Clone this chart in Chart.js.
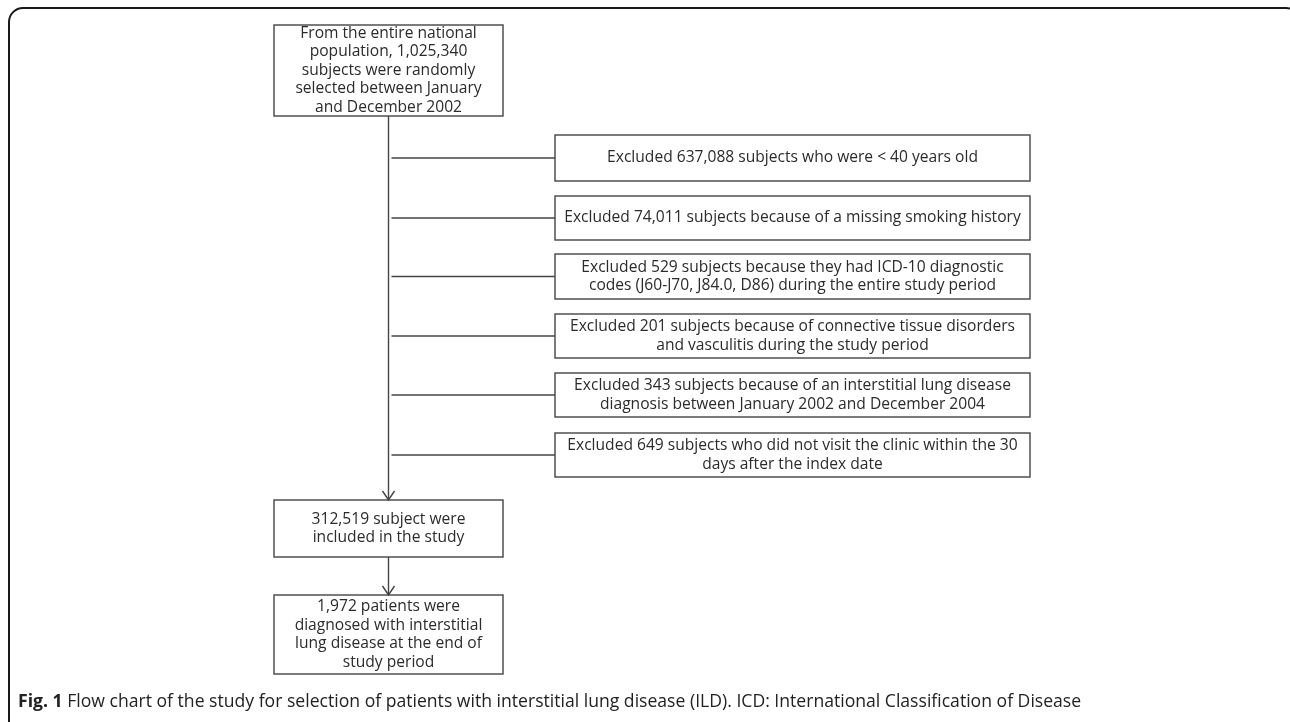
<!DOCTYPE html>
<html>
<head>
<meta charset="utf-8">
<script src="https://cdn.jsdelivr.net/npm/chart.js@4.4.1/dist/chart.umd.min.js"></script>
<style>
  html, body { margin: 0; padding: 0; background: #fff; }
  #wrap { width: 1290px; height: 722px; }
</style>
</head>
<body>
<div id="wrap"><canvas id="flow" width="1290" height="722"></canvas></div>
<script>
// flow chart content
const mainSteps = [
    ["From the entire national", "population, 1,025,340", "subjects were randomly", "selected between January", "and December 2002"],
    ["312,519 subject were", "included in the study"],
    ["1,972 patients were", "diagnosed with interstitial", "lung disease at the end of", "study period"]
];
const mainCounts = [1025340, 312519, 1972];

const exclusions = [
    ["Excluded 637,088 subjects who were < 40 years old"],
    ["Excluded 74,011 subjects because of a missing smoking history"],
    ["Excluded 529 subjects because they had ICD-10 diagnostic", "codes (J60-J70, J84.0, D86) during the entire study period"],
    ["Excluded 201 subjects because of connective tissue disorders", "and vasculitis during the study period"],
    ["Excluded 343 subjects because of an interstitial lung disease", "diagnosis between January 2002 and December 2004"],
    ["Excluded 649 subjects who did not visit the clinic within the 30", "days after the index date"]
];
const excludedCounts = [637088, 74011, 529, 201, 343, 649];

const captionBold = "Fig. 1";
const captionText = " Flow chart of the study for selection of patients with interstitial lung disease (ILD). ICD: International Classification of Disease";

// layout (in scale units)
const mainBoxes = [
    {x0: 274, x1: 503, y0: 25, y1: 116},
    {x0: 274, x1: 503, y0: 500, y1: 557},
    {x0: 274, x1: 503, y0: 595, y1: 674}
];
const exclX0 = 555, exclX1 = 1030;
const exclTops = [135, 196, 254, 314, 373, 433];
const exclBottoms = [181, 240, 299, 358, 417, 477];

const FONT = '"Open Sans", "Noto Sans", sans-serif';
const lineH = 18.5;

const flowPlugin = {
    id: 'flowPlugin',
    afterDraw(chart) {
        const ctx = chart.ctx;
        const sx = chart.scales.x, sy = chart.scales.y;
        const X = v => sx.getPixelForValue(v);
        const Y = v => sy.getPixelForValue(v);

        ctx.save();

        // outer frame (rounded, cropped on right/bottom)
        ctx.strokeStyle = '#1a1a1a';
        ctx.lineWidth = 2;
        ctx.beginPath();
        ctx.roundRect(X(9), Y(8), X(1300) - X(9), Y(735) - Y(8), 14);
        ctx.stroke();

        function box(b, lines) {
            ctx.strokeStyle = '#444';
            ctx.lineWidth = 1.4;
            ctx.strokeRect(X(b.x0), Y(b.y0), X(b.x1) - X(b.x0), Y(b.y1) - Y(b.y0));
            ctx.fillStyle = '#2b2b2b';
            ctx.font = '15.6px ' + FONT;
            ctx.textAlign = 'center';
            ctx.textBaseline = 'middle';
            const cx = (X(b.x0) + X(b.x1)) / 2;
            const cy = (Y(b.y0) + Y(b.y1)) / 2;
            const start = cy - (lines.length - 1) * lineH / 2;
            lines.forEach(function (t, i) {
                ctx.fillText(t, cx, start + i * lineH);
            });
        }

        function arrowDown(x, yTop, yTip) {
            ctx.strokeStyle = '#444';
            ctx.lineWidth = 1.4;
            ctx.beginPath();
            ctx.moveTo(X(x), Y(yTop));
            ctx.lineTo(X(x), Y(yTip));
            ctx.stroke();
            ctx.beginPath();
            ctx.moveTo(X(x) - 6, Y(yTip) - 9);
            ctx.lineTo(X(x), Y(yTip));
            ctx.lineTo(X(x) + 6, Y(yTip) - 9);
            ctx.stroke();
        }

        mainSteps.forEach(function (lines, i) {
            box(mainBoxes[i], lines);
        });

        const midX = (mainBoxes[0].x0 + mainBoxes[0].x1) / 2;
        arrowDown(midX, mainBoxes[0].y1, mainBoxes[1].y0);
        arrowDown(midX, mainBoxes[1].y1, mainBoxes[2].y0);

        exclusions.forEach(function (lines, i) {
            const b = {x0: exclX0, x1: exclX1, y0: exclTops[i], y1: exclBottoms[i]};
            const cy = (exclTops[i] + exclBottoms[i]) / 2;
            ctx.strokeStyle = '#444';
            ctx.lineWidth = 1.4;
            ctx.beginPath();
            ctx.moveTo(X(midX + 3), Y(cy));
            ctx.lineTo(X(exclX0), Y(cy));
            ctx.stroke();
            box(b, lines);
        });

        // caption
        ctx.textAlign = 'left';
        ctx.textBaseline = 'middle';
        ctx.fillStyle = '#222';
        ctx.font = 'bold 17.6px ' + FONT;
        ctx.fillText(captionBold, X(18), Y(702));
        const w = ctx.measureText(captionBold).width;
        ctx.font = '17.6px ' + FONT;
        ctx.fillText(captionText, X(18) + w, Y(702));

        ctx.restore();
    }
};

new Chart(document.getElementById('flow'), {
    type: 'scatter',
    data: {
        datasets: [{
            data: [],
            pointRadius: 0
        }]
    },
    options: {
        responsive: false,
        animation: false,
        layout: { padding: 0 },
        plugins: { legend: { display: false }, tooltip: { enabled: false } },
        scales: {
            x: { type: 'linear', min: 0, max: 1290, display: false },
            y: { type: 'linear', min: 0, max: 722, reverse: true, display: false }
        }
    },
    plugins: [flowPlugin]
});
</script>
</body>
</html>
